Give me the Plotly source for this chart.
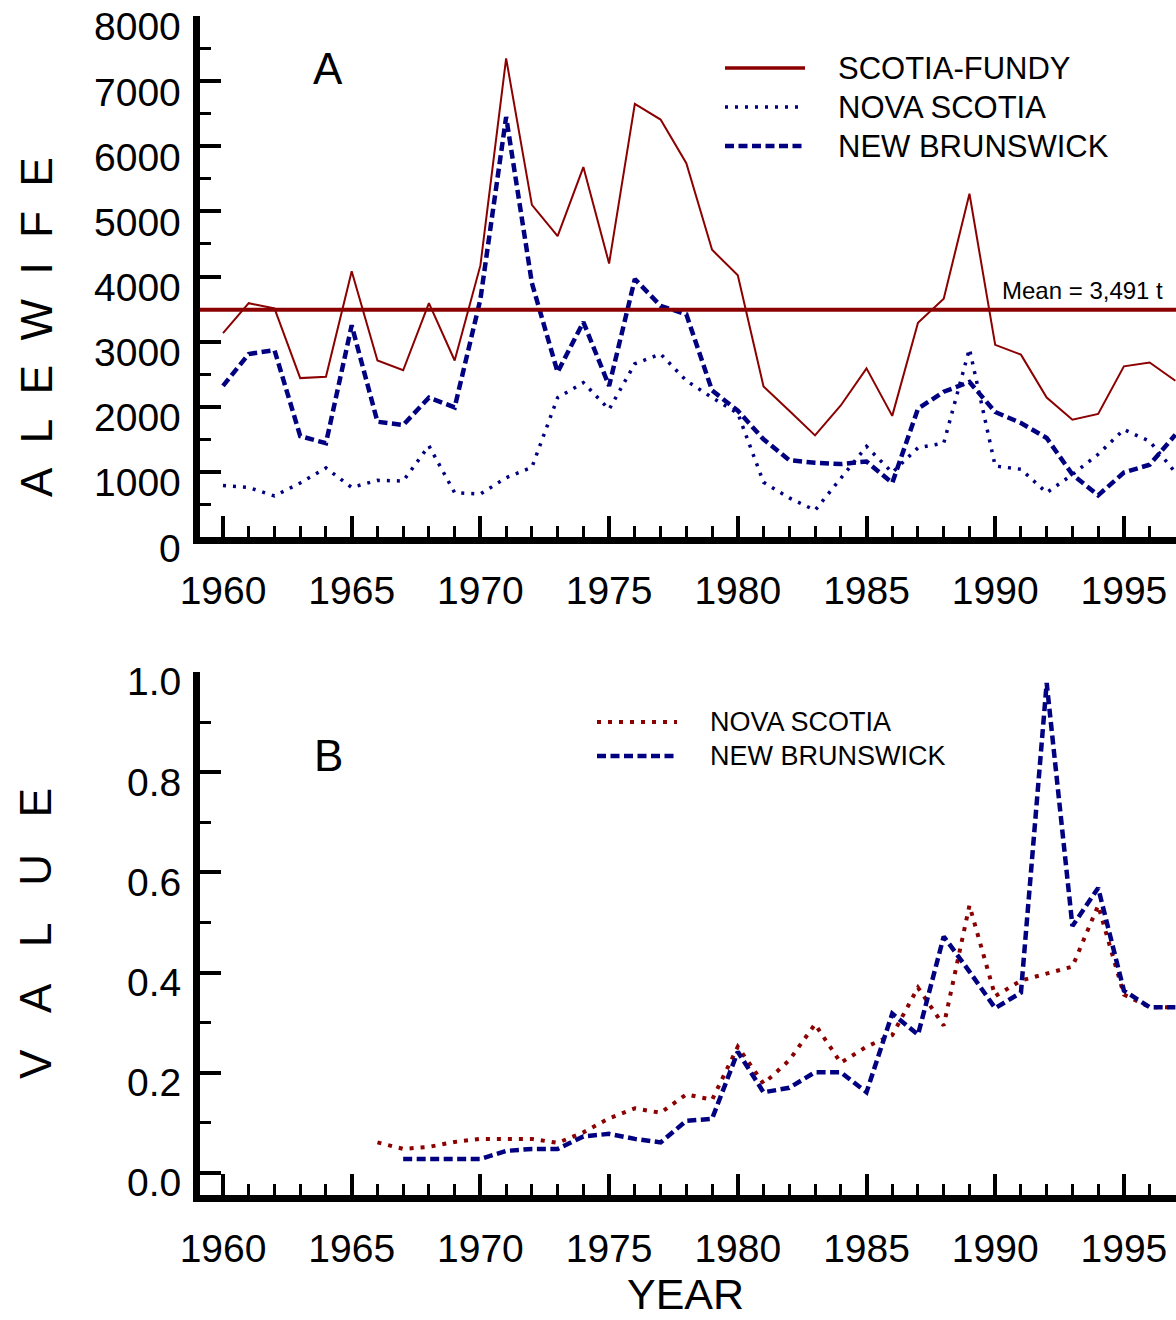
import plotly.graph_objects as go

W, H = 1176, 1320

# ---------------- data ----------------
years_a = list(range(1960, 1998))
scotia_fundy = [3130, 3590, 3510, 2440, 2460, 4080, 2710, 2560, 3590, 2710,
                4170, 7350, 5100, 4620, 5680, 4200, 6650, 6410, 5740, 4410,
                4020, 2310, 1940, 1560, 2020, 2590, 1860, 3290, 3660, 5270,
                2950, 2800, 2140, 1800, 1890, 2620, 2680, 2400]
nova_scotia_a = [790, 760, 630, 830, 1060, 760, 870, 860, 1400, 680,
                 660, 910, 1070, 2140, 2370, 1960, 2660, 2810, 2400, 2140,
                 1900, 840, 600, 410, 900, 1390, 990, 1370, 1440, 2890,
                 1090, 1040, 680, 960, 1270, 1650, 1470, 990]
new_brunswick_a = [2320, 2810, 2870, 1550, 1440, 3250, 1770, 1720, 2140, 1990,
                   3650, 6450, 3900, 2530, 3300, 2320, 3960, 3550, 3420, 2250,
                   1940, 1500, 1180, 1140, 1120, 1160, 830, 1970, 2230, 2380,
                   1920, 1750, 1520, 960, 640, 990, 1110, 1570]
mean_sf = 3491

years_ns_b = list(range(1966, 1998))
nova_scotia_b = [0.061, 0.048, 0.052, 0.062, 0.068, 0.069, 0.068, 0.060, 0.081, 0.109,
                 0.129, 0.120, 0.157, 0.146, 0.252, 0.178, 0.225, 0.297, 0.220, 0.252,
                 0.275, 0.370, 0.294, 0.534, 0.353, 0.384, 0.398, 0.412, 0.534, 0.356,
                 0.331, 0.331]
years_nb_b = list(range(1967, 1998))
new_brunswick_b = [0.028, 0.028, 0.028, 0.028, 0.044, 0.048, 0.048, 0.073, 0.078, 0.068,
                   0.061, 0.104, 0.108, 0.242, 0.161, 0.170, 0.201, 0.201, 0.161, 0.318,
                   0.276, 0.472, 0.402, 0.329, 0.360, 0.978, 0.493, 0.569, 0.364, 0.331,
                   0.331]

x_ticks = [1960, 1965, 1970, 1975, 1980, 1985, 1990, 1995]
ya_ticks = [0, 1000, 2000, 3000, 4000, 5000, 6000, 7000, 8000]
ya_ticktext = ["0", "1000", "2000", "3000", "4000", "5000", "6000", "7000", "8000"]
yb_ticks = [0.0, 0.2, 0.4, 0.6, 0.8, 1.0]
yb_ticktext = ["0.0", "0.2", "0.4", "0.6", "0.8", "1.0"]

RED = "#8b0000"
BLUE = "#000080"
FONT = "Liberation Sans, Arial, sans-serif"

DASH = "9px,4.5px"
DOT_A = "3px,7px"
DOT_B = "4px,7px"

fig = go.Figure()

# Panel A
fig.add_trace(go.Scatter(x=years_a, y=scotia_fundy, mode="lines",
                         line=dict(color=RED, width=2), xaxis="x", yaxis="y",
                         name="SCOTIA-FUNDY"))
fig.add_trace(go.Scatter(x=years_a, y=nova_scotia_a, mode="lines",
                         line=dict(color=BLUE, width=3.5, dash=DOT_A), xaxis="x", yaxis="y",
                         name="NOVA SCOTIA"))
fig.add_trace(go.Scatter(x=years_a, y=new_brunswick_a, mode="lines",
                         line=dict(color=BLUE, width=4.5, dash=DASH), xaxis="x", yaxis="y",
                         name="NEW BRUNSWICK"))
# Panel B
fig.add_trace(go.Scatter(x=years_ns_b, y=nova_scotia_b, mode="lines",
                         line=dict(color=RED, width=4, dash=DOT_B), xaxis="x2", yaxis="y2",
                         name="NOVA SCOTIA"))
fig.add_trace(go.Scatter(x=years_nb_b, y=new_brunswick_b, mode="lines",
                         line=dict(color=BLUE, width=4.5, dash=DASH), xaxis="x2", yaxis="y2",
                         name="NEW BRUNSWICK"))

def px_x(x):
    return x / W

def px_y(y):
    return 1 - y / H

x_left = 200
x_range = [1960 - 23 / 25.74, 1960 + (W - 223) / 25.74]

common_x = dict(
    range=x_range, domain=[px_x(x_left), 1.0], automargin=False,
    showline=True, linewidth=7, linecolor="black",
    ticks="inside", ticklen=21, tickwidth=4, tickcolor="black",
    tickvals=x_ticks, ticktext=[str(v) for v in x_ticks],
    minor=dict(dtick=1, tick0=1960, ticks="inside", ticklen=11, tickwidth=3, tickcolor="black"),
    tickfont=dict(size=39, color="black", family=FONT),
    showgrid=False, zeroline=False, ticklabelstandoff=13,
)
common_y = dict(
    showline=True, linewidth=7, linecolor="black", automargin=False,
    ticks="inside", ticklen=21, tickwidth=4, tickcolor="black",
    showticklabels=False,
    showgrid=False, zeroline=False,
)

fig.update_layout(
    width=W, height=H, margin=dict(l=0, r=0, t=0, b=0, autoexpand=False),
    paper_bgcolor="white", plot_bgcolor="white", showlegend=False,
    font=dict(family=FONT, color="black"),
    xaxis=dict(anchor="y", **common_x),
    yaxis=dict(anchor="x", domain=[px_y(537), px_y(16)], range=[0, 8000],
               tickvals=ya_ticks,
               minor=dict(dtick=500, tick0=0, ticks="inside", ticklen=11, tickwidth=3, tickcolor="black"),
               **common_y),
    xaxis2=dict(anchor="y2", **common_x),
    yaxis2=dict(anchor="x2", domain=[px_y(1195), px_y(672)], range=[-0.044, 1.0],
                tickvals=yb_ticks,
                minor=dict(dtick=0.1, tick0=0, ticks="inside", ticklen=11, tickwidth=3, tickcolor="black"),
                **common_y),
)

annotations = []
# y tick labels (sit slightly below their ticks, as in the original)
for v, t in zip(ya_ticks, ya_ticktext):
    annotations.append(dict(text=t, xref="paper", yref="y", x=px_x(183), y=v, yshift=-11,
                            xanchor="right", yanchor="middle", showarrow=False,
                            font=dict(size=39, color="black", family=FONT)))
for v, t in zip(yb_ticks, yb_ticktext):
    annotations.append(dict(text=t, xref="paper", yref="y2", x=px_x(183), y=v, yshift=-10,
                            xanchor="right", yanchor="middle", showarrow=False,
                            font=dict(size=39, color="black", family=FONT)))

shapes = []
# mean line
shapes.append(dict(type="line", xref="x domain", yref="y", x0=0, x1=1, y0=mean_sf, y1=mean_sf,
                   line=dict(color=RED, width=4)))

# legend A
leg_a = [("SCOTIA-FUNDY", RED, None, 3.5, 68), ("NOVA SCOTIA", BLUE, DOT_A, 3.5, 107),
         ("NEW BRUNSWICK", BLUE, DASH, 4.5, 146)]
for name, col, dash, w, yy in leg_a:
    ln = dict(color=col, width=w)
    if dash:
        ln["dash"] = dash
    shapes.append(dict(type="line", xref="paper", yref="paper", x0=px_x(725), x1=px_x(805),
                       y0=px_y(yy), y1=px_y(yy), line=ln))
    annotations.append(dict(text=name, xref="paper", yref="paper", x=px_x(836), y=px_y(yy),
                            xanchor="left", yanchor="middle", showarrow=False,
                            font=dict(size=31, color="black", family=FONT)))
# legend B
leg_b = [("NOVA SCOTIA", RED, DOT_B, 4, 722), ("NEW BRUNSWICK", BLUE, DASH, 4.5, 756)]
for name, col, dash, w, yy in leg_b:
    shapes.append(dict(type="line", xref="paper", yref="paper", x0=px_x(597), x1=px_x(677),
                       y0=px_y(yy), y1=px_y(yy), line=dict(color=col, width=w, dash=dash)))
    annotations.append(dict(text=name, xref="paper", yref="paper", x=px_x(708), y=px_y(yy),
                            xanchor="left", yanchor="middle", showarrow=False,
                            font=dict(size=27, color="black", family=FONT)))

nb = "\u00a0"
annotations += [
    dict(text="A", xref="paper", yref="paper", x=px_x(328), y=px_y(68), showarrow=False,
         xanchor="center", yanchor="middle", font=dict(size=44, color="black", family=FONT)),
    dict(text="B", xref="paper", yref="paper", x=px_x(328), y=px_y(755), showarrow=False,
         xanchor="center", yanchor="middle", font=dict(size=44, color="black", family=FONT)),
    dict(text="Mean = 3,491 t", xref="paper", yref="paper", x=px_x(1000), y=px_y(290), showarrow=False,
         xanchor="left", yanchor="middle", font=dict(size=24, color="black", family=FONT)),
    dict(text="YEAR", xref="paper", yref="paper", x=px_x(685), y=px_y(1294), showarrow=False,
         xanchor="center", yanchor="middle", font=dict(size=43, color="black", family=FONT)),
    dict(text=(nb * 2).join("ALEWIFE"), xref="paper", yref="paper", x=px_x(36), y=px_y(327),
         showarrow=False, textangle=-90, xanchor="center", yanchor="middle",
         font=dict(size=44, color="black", family=FONT)),
    dict(text=(nb * 3).join("VALUE"), xref="paper", yref="paper", x=px_x(36), y=px_y(934),
         showarrow=False, textangle=-90, xanchor="center", yanchor="middle",
         font=dict(size=44, color="black", family=FONT)),
]

fig.update_layout(shapes=shapes, annotations=annotations)
fig.write_html("out.html")
